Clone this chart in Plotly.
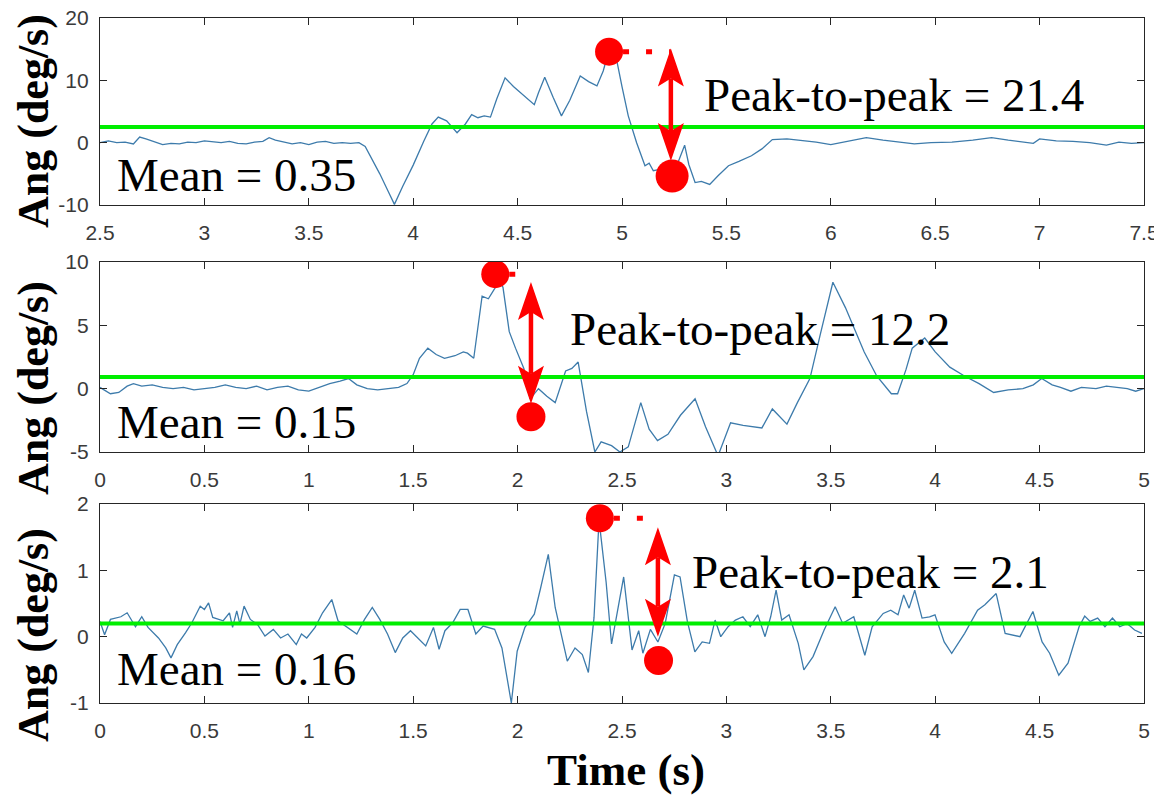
import plotly.graph_objects as go

# page is 1162x804; the HTML body adds an 8px margin, so the figure is made smaller and
# all pixel positions below are given in page pixels and shifted by that margin.
PAGE_MARGIN = 8
W, H = 1154, 788

# ---------------- data ----------------
t1 = [2.50, 2.54, 2.58, 2.62, 2.66, 2.69, 2.72, 2.76, 2.80, 2.84, 2.88, 2.92, 2.96, 3.00, 3.04, 3.08,
      3.12, 3.16, 3.20, 3.24, 3.28, 3.31, 3.34, 3.38, 3.42, 3.46, 3.50, 3.54, 3.58, 3.62, 3.66, 3.70,
      3.74, 3.77, 3.80, 3.84, 3.88, 3.91, 3.95, 4.00, 4.05, 4.09, 4.12, 4.16, 4.21, 4.25, 4.28, 4.31,
      4.34, 4.37, 4.40, 4.44, 4.48, 4.53, 4.58, 4.60, 4.63, 4.67, 4.71, 4.75, 4.80, 4.84, 4.88, 4.91,
      4.93, 4.95, 4.97, 5.00, 5.03, 5.07, 5.11, 5.13, 5.15, 5.18, 5.23, 5.27, 5.30, 5.32, 5.35, 5.38,
      5.42, 5.46, 5.51, 5.56, 5.62, 5.67, 5.72, 5.79, 5.86, 5.93, 6.00, 6.08, 6.17, 6.25, 6.33, 6.40,
      6.48, 6.58, 6.68, 6.77, 6.85, 6.93, 6.97, 7.00, 7.08, 7.16, 7.24, 7.32, 7.38, 7.44, 7.50]
v1 = [0.0, 0.3, 0.0, 0.1, -0.2, 0.9, 0.6, 0.1, -0.3, -0.1, -0.2, 0.1, 0.0, 0.3, 0.1, 0.0,
      0.2, -0.1, -0.2, 0.1, 0.2, 0.8, 0.4, 0.1, -0.2, 0.0, -0.3, 0.1, 0.2, -0.1, 0.0, -0.1,
      0.0, -0.6, -2.5, -5.0, -7.8, -9.9, -7.0, -3.6, 0.2, 3.0, 4.1, 3.5, 1.6, 3.0, 4.5, 4.0,
      4.3, 4.1, 7.0, 10.4, 9.0, 7.6, 6.1, 8.0, 10.5, 7.3, 4.3, 6.8, 10.7, 9.8, 9.1, 11.5,
      13.9, 14.3, 14.0, 9.0, 4.3, 0.0, -3.7, -3.3, -4.5, -4.3, -5.3, -3.0, -0.4, -3.5, -6.4, -6.2,
      -6.7, -5.3, -3.7, -3.0, -2.1, -1.0, 0.5, 0.6, 0.4, 0.1, -0.3, 0.2, 0.8, 0.4, 0.1, -0.2,
      0.0, 0.1, 0.4, 0.8, 0.4, 0.1, -0.1, 0.6, 0.3, 0.2, 0.0, -0.4, 0.1, -0.1, 0.0]

t2 = [0.00, 0.03, 0.05, 0.09, 0.13, 0.16, 0.20, 0.25, 0.30, 0.35, 0.40, 0.45, 0.50, 0.55, 0.60, 0.65,
      0.70, 0.75, 0.80, 0.85, 0.90, 0.95, 1.00, 1.05, 1.10, 1.15, 1.19, 1.23, 1.28, 1.33, 1.38, 1.43,
      1.47, 1.50, 1.53, 1.57, 1.61, 1.65, 1.70, 1.74, 1.76, 1.79, 1.83, 1.86, 1.89, 1.91, 1.93, 1.96,
      1.99, 2.03, 2.06, 2.10, 2.14, 2.18, 2.23, 2.26, 2.29, 2.33, 2.37, 2.40, 2.45, 2.49, 2.53, 2.59,
      2.63, 2.67, 2.72, 2.78, 2.85, 2.90, 2.96, 3.02, 3.08, 3.17, 3.22, 3.29, 3.34, 3.40, 3.45, 3.51,
      3.57, 3.66, 3.72, 3.79, 3.82, 3.86, 3.89, 3.95, 4.00, 4.07, 4.14, 4.21, 4.28, 4.35, 4.42, 4.47,
      4.51, 4.56, 4.60, 4.65, 4.70, 4.77, 4.82, 4.86, 4.92, 4.96, 5.00]
v2 = [0.1, -0.2, -0.4, -0.3, 0.2, 0.4, 0.2, 0.3, 0.1, 0.0, 0.1, -0.1, 0.0, 0.1, 0.3, 0.1,
      0.0, 0.2, -0.1, 0.1, 0.2, -0.1, -0.2, 0.1, 0.4, 0.6, 0.8, 0.3, 0.0, -0.1, 0.0, 0.1,
      0.4, 1.1, 2.4, 3.2, 2.7, 2.4, 2.6, 2.9, 2.8, 2.4, 7.3, 7.1, 7.9, 8.6, 8.0, 4.5,
      3.2, 1.6, -0.8, 0.0, -0.6, -1.1, 1.4, 1.6, 2.1, -1.8, -5.0, -4.2, -4.5, -5.0, -4.6, -1.1,
      -3.2, -4.1, -3.6, -2.1, -0.8, -3.0, -5.3, -2.7, -2.9, -3.1, -1.6, -2.8, -1.1, 0.8, 4.3, 8.4,
      6.4, 2.9, 1.0, -0.4, -0.4, 1.5, 3.2, 4.0, 2.9, 1.7, 1.0, 0.4, -0.3, -0.1, 0.0, 0.3,
      0.8, 0.3, 0.1, -0.2, 0.1, 0.0, 0.2, 0.1, 0.0, -0.2, 0.0]

t3 = [0.000, 0.022, 0.050, 0.100, 0.130, 0.170, 0.200, 0.230, 0.280, 0.315, 0.340, 0.370, 0.410, 0.440,
      0.480, 0.500, 0.520, 0.540, 0.590, 0.620, 0.635, 0.655, 0.670, 0.690, 0.720, 0.755, 0.790, 0.830,
      0.865, 0.900, 0.940, 0.965, 0.990, 1.030, 1.066, 1.110, 1.140, 1.175, 1.230, 1.267, 1.304, 1.340,
      1.377, 1.414, 1.450, 1.487, 1.524, 1.560, 1.597, 1.624, 1.652, 1.689, 1.725, 1.762, 1.800, 1.835,
      1.890, 1.925, 1.970, 1.998, 2.035, 2.080, 2.110, 2.147, 2.180, 2.238, 2.275, 2.310, 2.339, 2.366,
      2.390, 2.424, 2.450, 2.508, 2.548, 2.580, 2.600, 2.636, 2.672, 2.707, 2.751, 2.778, 2.813, 2.849,
      2.884, 2.919, 2.946, 2.973, 3.008, 3.043, 3.079, 3.114, 3.150, 3.185, 3.212, 3.238, 3.265, 3.300,
      3.344, 3.371, 3.415, 3.468, 3.521, 3.557, 3.610, 3.663, 3.698, 3.751, 3.787, 3.822, 3.849, 3.875,
      3.902, 3.937, 3.973, 3.999, 4.043, 4.079, 4.141, 4.203, 4.238, 4.292, 4.335, 4.406, 4.468, 4.512,
      4.548, 4.592, 4.636, 4.689, 4.716, 4.742, 4.778, 4.813, 4.849, 4.884, 4.919, 4.955, 4.990]
v3 = [0.23, 0.03, 0.26, 0.30, 0.36, 0.15, 0.30, 0.14, -0.02, -0.17, -0.32, -0.12, 0.06, 0.21,
      0.46, 0.41, 0.51, 0.29, 0.24, 0.36, 0.14, 0.39, 0.19, 0.46, 0.26, 0.18, 0.01, 0.11,
      -0.02, 0.04, -0.12, 0.04, -0.02, 0.14, 0.36, 0.56, 0.24, 0.16, 0.04, 0.26, 0.44, 0.26,
      0.04, -0.24, -0.02, 0.09, -0.02, -0.14, 0.14, -0.19, 0.09, 0.21, 0.41, 0.41, 0.04, 0.16,
      0.11, -0.17, -1.00, -0.22, 0.14, 0.34, 0.73, 1.24, 0.44, -0.37, -0.17, -0.27, -0.54, 0.29,
      1.76, 0.82, -0.11, 0.90, -0.20, 0.09, -0.25, 0.11, -0.08, 0.20, 0.93, 0.90, 0.23, -0.23,
      -0.08, -0.10, 0.25, 0.00, 0.15, 0.25, 0.30, 0.15, 0.33, 0.00, 0.30, 0.70, 0.25, 0.33,
      -0.10, -0.50, -0.30, 0.10, 0.45, 0.20, 0.30, -0.28, 0.15, 0.35, 0.40, 0.33, 0.63, 0.43,
      0.70, 0.28, 0.30, 0.33, -0.08, -0.25, 0.05, 0.40, 0.48, 0.65, 0.05, 0.00, 0.38, -0.08,
      -0.25, -0.58, -0.40, 0.15, 0.31, 0.23, 0.28, 0.15, 0.28, 0.15, 0.20, 0.10, 0.05]

series_t = [t1, t2, t3]
series_v = [v1, v2, v3]

mean_levels = [2.5, 0.93, 0.2]          # green horizontal lines
mean_labels = ["Mean = 0.35", "Mean = 0.15", "Mean = 0.16"]
p2p_labels = ["Peak-to-peak = 21.4", "Peak-to-peak = 12.2", "Peak-to-peak = 2.1"]

peak_x = [4.938, 1.893, 2.394]
peak_y = [14.6, 9.04, 1.785]
trough_x = [5.24, 2.064, 2.675]
trough_y = [-5.35, -2.22, -0.36]
arrow_x = [5.234, 2.064, 2.672]
arrow_top = [15.1, 8.42, 1.65]
arrow_bottom = [-2.94, -1.2, 0.0]

x_ranges = [[2.5, 7.5], [0, 5], [0, 5]]
x_tickvals = [[2.5, 3, 3.5, 4, 4.5, 5, 5.5, 6, 6.5, 7, 7.5],
              [0, 0.5, 1, 1.5, 2, 2.5, 3, 3.5, 4, 4.5, 5],
              [0, 0.5, 1, 1.5, 2, 2.5, 3, 3.5, 4, 4.5, 5]]
x_ticktext = [["2.5", "3", "3.5", "4", "4.5", "5", "5.5", "6", "6.5", "7", "7.5"],
              ["0", "0.5", "1", "1.5", "2", "2.5", "3", "3.5", "4", "4.5", "5"],
              ["0", "0.5", "1", "1.5", "2", "2.5", "3", "3.5", "4", "4.5", "5"]]
y_ranges = [[-10, 20], [-5, 10], [-1, 2]]
y_tickvals = [[-10, 0, 10, 20], [-5, 0, 5, 10], [-1, 0, 1, 2]]
y_ticktext = [["-10", "0", "10", "20"], ["-5", "0", "5", "10"], ["-1", "0", "1", "2"]]

y_title = "Ang (deg/s)"
x_title = "Time (s)"

# ---------------- layout geometry (page pixels) ----------------
plot_left, plot_right = 100, 1144
panel_px = [(18, 205), (262, 452), (504, 703)]   # (top, bottom)

def px_x(p):
    return (p - PAGE_MARGIN) / W

def px_y(p):
    return 1 - (p - PAGE_MARGIN) / H

LINE_BLUE = "#3d7bab"
GREEN = "#00ee00"
RED = "#ff0000"
AXIS = "#262626"
TICKFONT = dict(family="Liberation Sans, Arial, sans-serif", size=21, color="#3a3a3a")
SERIF = "Liberation Serif, Times New Roman, serif"

fig = go.Figure()
shapes = []
annotations = []

for i in range(3):
    xa = "x" if i == 0 else f"x{i+1}"
    ya = "y" if i == 0 else f"y{i+1}"
    top, bottom = panel_px[i]
    dom_y = [px_y(bottom), px_y(top)]
    px_per_unit = (bottom - top) / (y_ranges[i][1] - y_ranges[i][0])

    # signal
    fig.add_trace(go.Scatter(x=series_t[i], y=series_v[i], mode="lines",
                             line=dict(color=LINE_BLUE, width=1.3),
                             xaxis=xa, yaxis=ya, showlegend=False, hoverinfo="skip"))
    # mean (green) line
    fig.add_trace(go.Scatter(x=x_ranges[i], y=[mean_levels[i]] * 2, mode="lines",
                             line=dict(color=GREEN, width=4),
                             xaxis=xa, yaxis=ya, showlegend=False, hoverinfo="skip"))
    # dotted connector from peak to arrow
    fig.add_trace(go.Scatter(x=[peak_x[i], arrow_x[i]], y=[peak_y[i], peak_y[i]], mode="lines",
                             line=dict(color=RED, width=5, dash="0px,14px,6px,3px"),
                             xaxis=xa, yaxis=ya, showlegend=False, hoverinfo="skip"))
    # arrow shaft (ends at the notches of the heads)
    notch = 30 / px_per_unit
    fig.add_trace(go.Scatter(x=[arrow_x[i], arrow_x[i]],
                             y=[arrow_top[i] - notch, arrow_bottom[i] + notch], mode="lines",
                             line=dict(color=RED, width=4.5),
                             xaxis=xa, yaxis=ya, showlegend=False, hoverinfo="skip"))
    # peak / trough markers
    fig.add_trace(go.Scatter(x=[peak_x[i]], y=[peak_y[i]], mode="markers",
                             marker=dict(color=RED, size=28),
                             xaxis=xa, yaxis=ya, showlegend=False, hoverinfo="skip"))
    fig.add_trace(go.Scatter(x=[trough_x[i]], y=[trough_y[i]], mode="markers",
                             marker=dict(color=RED, size=33 if i == 0 else 29),
                             xaxis=xa, yaxis=ya, showlegend=False, hoverinfo="skip"))

    # arrow heads (pixel-sized paths anchored at the tips)
    L, Wd, N = 38, 13, 30
    for tip, d in ((arrow_top[i], 1), (arrow_bottom[i], -1)):
        shapes.append(dict(type="path", xref=xa, yref=ya,
                           xsizemode="pixel", ysizemode="pixel",
                           xanchor=arrow_x[i], yanchor=tip,
                           path=f"M0,0 L{-Wd},{-d*L} L0,{-d*N} L{Wd},{-d*L} Z",
                           fillcolor=RED, line=dict(width=0)))

    axis_common = dict(showline=True, linecolor=AXIS, linewidth=1.3, mirror="ticks",
                       ticks="inside", ticklen=7, tickwidth=1.1, tickcolor=AXIS,
                       showgrid=False, zeroline=False, tickfont=TICKFONT, automargin=False,
                       ticklabeloverflow="allow")
    fig.update_layout(**{
        ("xaxis" if i == 0 else f"xaxis{i+1}"): dict(
            domain=[px_x(plot_left), px_x(plot_right)], anchor=ya,
            range=x_ranges[i], tickvals=x_tickvals[i], ticktext=x_ticktext[i],
            ticklabelstandoff=9, **axis_common),
        ("yaxis" if i == 0 else f"yaxis{i+1}"): dict(
            domain=dom_y, anchor=xa,
            range=y_ranges[i], tickvals=y_tickvals[i], ticktext=y_ticktext[i],
            ticklabelstandoff=6, **axis_common),
    })

# ---------------- texts (page pixels) ----------------
mean_pos = [(115, 175), (115, 422), (115, 669)]
p2p_pos = [(702, 95), (568, 329), (690, 572)]
ylab_pos = [(33, 121), (33, 388), (33, 635)]

for i in range(3):
    annotations.append(dict(text=mean_labels[i], xref="paper", yref="paper",
                            x=px_x(mean_pos[i][0]), y=px_y(mean_pos[i][1]),
                            xanchor="left", yanchor="middle", showarrow=False,
                            font=dict(family=SERIF, size=47, color="black")))
    annotations.append(dict(text=p2p_labels[i], xref="paper", yref="paper",
                            x=px_x(p2p_pos[i][0]), y=px_y(p2p_pos[i][1]),
                            xanchor="left", yanchor="middle", showarrow=False,
                            font=dict(family=SERIF, size=47, color="black")))
    annotations.append(dict(text=f"<b>{y_title}</b>", xref="paper", yref="paper",
                            x=px_x(ylab_pos[i][0]), y=px_y(ylab_pos[i][1]),
                            xanchor="center", yanchor="middle", textangle=-90, showarrow=False,
                            font=dict(family=SERIF, size=44, color="black")))

annotations.append(dict(text=f"<b>{x_title}</b>", xref="paper", yref="paper",
                        x=px_x(626), y=px_y(770), xanchor="center", yanchor="middle",
                        showarrow=False, font=dict(family=SERIF, size=45, color="black")))

fig.update_layout(width=W, height=H, margin=dict(l=0, r=0, t=0, b=0),
                  paper_bgcolor="white", plot_bgcolor="white",
                  shapes=shapes, annotations=annotations, showlegend=False)

fig.write_html("out.html")
